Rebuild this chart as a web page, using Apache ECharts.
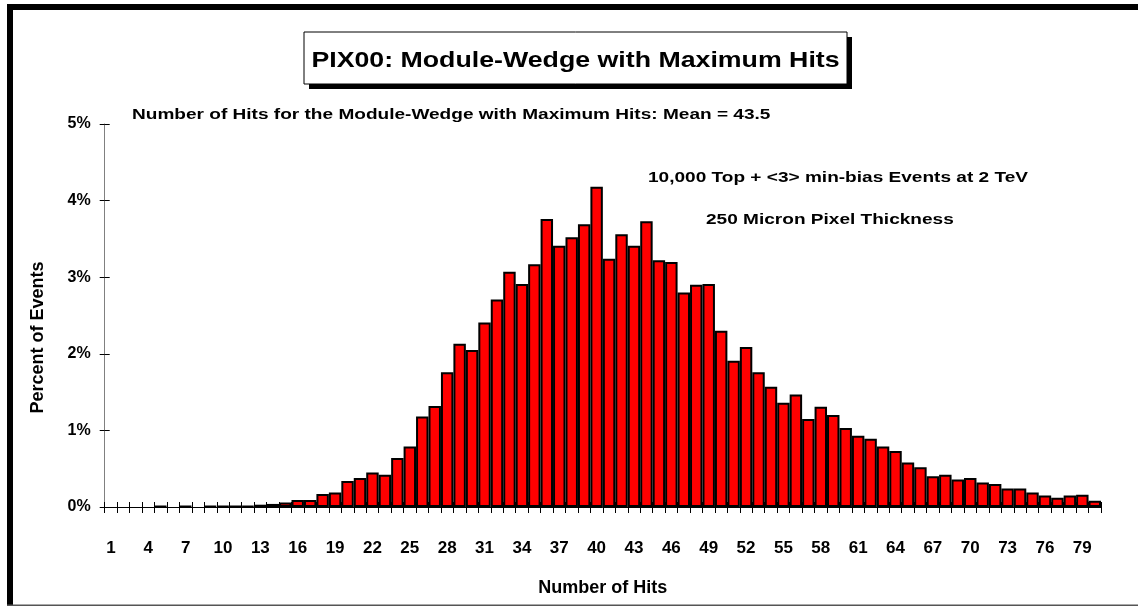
<!DOCTYPE html>
<html>
<head>
<meta charset="utf-8">
<script src="https://cdn.jsdelivr.net/npm/echarts@6/dist/echarts.min.js"></script>
<style>
html,body{margin:0;padding:0;background:#fff;}
#chart{width:1138px;height:606px;}
</style>
</head>
<body>
<div id="chart"></div>
<script>
// ---- data ----
const categories = ['1','2','3','4','5','6','7','8','9','10','11','12','13','14','15','16','17','18','19','20',
  '21','22','23','24','25','26','27','28','29','30','31','32','33','34','35','36','37','38','39','40',
  '41','42','43','44','45','46','47','48','49','50','51','52','53','54','55','56','57','58','59','60',
  '61','62','63','64','65','66','67','68','69','70','71','72','73','74','75','76','77','78','79','80'];
const percentEvents = [0, 0, 0, 0, 0.01, 0, 0.01, 0, 0.01, 0.01,
  0.01, 0.01, 0.03, 0.04, 0.06, 0.09, 0.09, 0.17, 0.19, 0.34,
  0.38, 0.45, 0.42, 0.64, 0.79, 1.18, 1.32, 1.76, 2.13, 2.05,
  2.41, 2.71, 3.07, 2.91, 3.17, 3.76, 3.41, 3.52, 3.69, 4.18,
  3.24, 3.56, 3.41, 3.73, 3.22, 3.20, 2.80, 2.90, 2.91, 2.30,
  1.91, 2.09, 1.76, 1.57, 1.36, 1.47, 1.15, 1.31, 1.20, 1.03,
  0.93, 0.89, 0.79, 0.73, 0.58, 0.52, 0.40, 0.42, 0.36, 0.38,
  0.32, 0.30, 0.24, 0.24, 0.19, 0.15, 0.12, 0.15, 0.16, 0.08];
const yTicks = [0, 1, 2, 3, 4, 5];
const titleText = 'PIX00: Module-Wedge with Maximum Hits';
const subtitleText = 'Number of Hits for the Module-Wedge with Maximum Hits: Mean = 43.5';
const note1 = '10,000 Top + <3> min-bias Events at 2 TeV';
const note2 = '250 Micron Pixel Thickness';
const xName = 'Number of Hits';
const yName = 'Percent of Events';

const FONT = '"Liberation Sans", Arial, sans-serif';
const chart = echarts.init(document.getElementById('chart'), null, {renderer: 'canvas'});

// empty bins are not drawn as bars
const barData = percentEvents.map(v => (v === 0 ? '-' : v));

const option = {
  backgroundColor: '#ffffff',
  animation: false,
  grid: {left: 104.7, right: 37, top: 124, bottom: 99, containLabel: false},
  xAxis: [{
    type: 'category',
    data: categories,
    position: 'bottom',
    boundaryGap: true,
    axisLine: {show: true, lineStyle: {color: '#000', width: 1}},
    axisTick: {show: true, inside: false, length: 6, interval: 0, lineStyle: {color: '#000'}},
    axisLabel: {interval: 2, margin: 33, color: '#000', fontFamily: FONT, fontWeight: 'bold', fontSize: 17},
    splitLine: {show: false},
    name: xName,
    nameLocation: 'middle',
    nameGap: 72,
    nameTextStyle: {color: '#000', fontFamily: FONT, fontWeight: 'bold', fontSize: 18}
  }, {
    type: 'category',
    data: categories,
    position: 'bottom',
    boundaryGap: true,
    axisLine: {show: false},
    axisTick: {show: true, inside: true, length: 5, interval: 0, lineStyle: {color: '#000'}},
    axisLabel: {show: false},
    splitLine: {show: false}
  }],
  yAxis: [{
    type: 'value',
    min: yTicks[0],
    max: yTicks[yTicks.length - 1],
    interval: 1,
    position: 'left',
    axisLine: {show: true, lineStyle: {color: '#808080', width: 1}},
    axisTick: {show: true, inside: false, length: 5, lineStyle: {color: '#000'}},
    axisLabel: {formatter: '{value}%', margin: 14, padding: [8, 0, 0, 0], color: '#000', fontFamily: FONT, fontWeight: 'bold', fontSize: 16},
    splitLine: {show: false},
    name: yName,
    nameLocation: 'middle',
    nameGap: 58,
    nameRotate: 90,
    nameTextStyle: {color: '#000', fontFamily: FONT, fontWeight: 'bold', fontSize: 18, padding: [0, 44, 0, 0]}
  }, {
    type: 'value',
    min: yTicks[0],
    max: yTicks[yTicks.length - 1],
    interval: 1,
    position: 'left',
    offset: 0,
    axisLine: {show: false},
    axisTick: {show: true, inside: true, length: 5, lineStyle: {color: '#000'}},
    axisLabel: {show: false},
    splitLine: {show: false}
  }],
  series: [{
    type: 'bar',
    xAxisIndex: 0,
    yAxisIndex: 0,
    data: barData,
    barCategoryGap: '0%',
    itemStyle: {color: '#ff0000', borderColor: '#000', borderWidth: 2},
    z: 3
  }],
  graphic: [
    // outer frame
    {type: 'rect', shape: {x: 7, y: 4, width: 1131, height: 6}, style: {fill: '#000'}, silent: true},
    {type: 'rect', shape: {x: 7, y: 4, width: 6, height: 602}, style: {fill: '#000'}, silent: true},
    {type: 'rect', shape: {x: 7, y: 604.5, width: 1131, height: 1.5}, style: {fill: '#555'}, silent: true},
    // title box shadow + box
    {type: 'rect', shape: {x: 309, y: 37, width: 543, height: 52}, style: {fill: '#000'}, silent: true},
    {type: 'rect', shape: {x: 304, y: 32, width: 543, height: 52}, style: {fill: '#fff', stroke: '#000', lineWidth: 1}, silent: true},
    {type: 'text', x: 575.5, y: 61, scaleX: 1.215,
      style: {text: titleText, align: 'center', verticalAlign: 'middle', fill: '#000', font: 'bold 22px ' + FONT}, silent: true},
    {type: 'text', x: 132, y: 115, scaleX: 1.27,
      style: {text: subtitleText, align: 'left', verticalAlign: 'middle', fill: '#000', font: 'bold 15px ' + FONT}, silent: true},
    {type: 'text', x: 648, y: 178, scaleX: 1.27,
      style: {text: note1, align: 'left', verticalAlign: 'middle', fill: '#000', font: 'bold 15px ' + FONT}, silent: true},
    {type: 'text', x: 706, y: 220, scaleX: 1.27,
      style: {text: note2, align: 'left', verticalAlign: 'middle', fill: '#000', font: 'bold 15px ' + FONT}, silent: true}
  ]
};
chart.setOption(option);
</script>
</body>
</html>
